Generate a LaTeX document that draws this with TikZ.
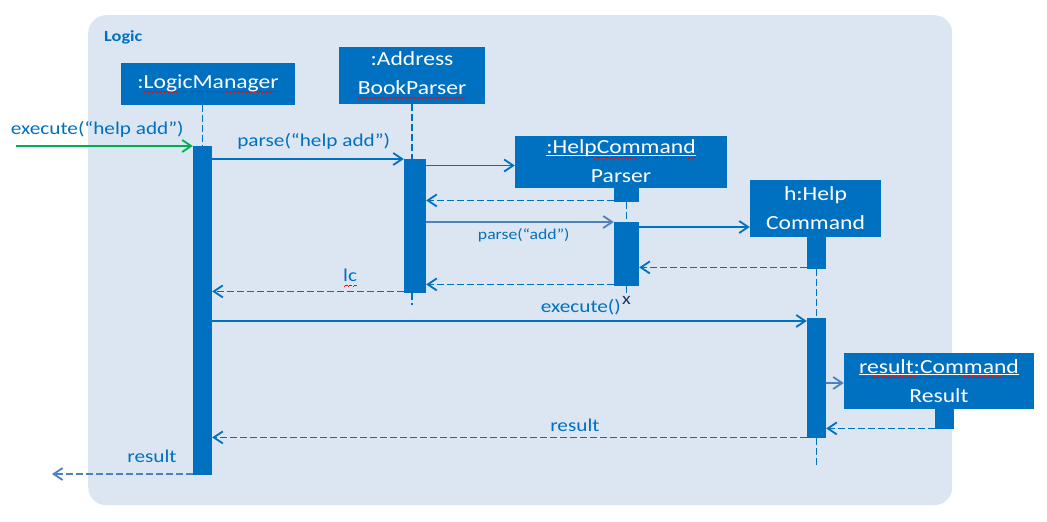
\documentclass[tikz,border=0pt]{standalone}
\usepackage{fontspec}
\setmainfont[FakeStretch=1.18]{Carlito}
\usetikzlibrary{arrows.meta}
\definecolor{obj}{HTML}{0070C0}
\definecolor{obj2}{HTML}{4F81BD}
\definecolor{frm}{HTML}{DCE6F2}
\definecolor{grn}{HTML}{00B050}
\definecolor{navy}{HTML}{1F3864}
\newlength\wlen
\newcommand\wline[1]{\settowidth\wlen{#1}\rlap{\rule[-2pt]{\wlen}{0.9pt}}#1}
\newcommand\rwave[1]{\settowidth\wlen{#1}\rlap{\color{red}\hbox to\wlen{\xleaders\hbox{\rule[-4.6pt]{1pt}{0.7pt}\rule[-4pt]{1pt}{0.7pt}\rule[-3.4pt]{1pt}{0.7pt}\rule[-4pt]{1pt}{0.7pt}}\hfill}}#1}
\tikzset{
  box/.style={fill=obj,text=white,align=center,inner sep=0pt,font=\fontsize{20}{29}\selectfont},
  act/.style={fill=obj,inner sep=0pt,anchor=north},
  life/.style={draw=obj,line width=1.9pt,dash pattern=on 7pt off 3pt},
  msg/.style={-{Straight Barb[length=9pt,width=12pt]},line width=1.8pt,draw=obj},
  ret/.style={msg,dash pattern=on 7pt off 3pt},
  lab/.style={font=\fontsize{18}{21}\selectfont,text=obj,inner sep=0pt},
}
\begin{document}
\begin{tikzpicture}[x=1pt,y=-1pt]
\useasboundingbox (0,0) rectangle (1047,522);
\node[fill=frm,rounded corners=18pt,minimum width=864,minimum height=490,anchor=north west,inner sep=0pt] (logic) at (88,15) {};
\node[font=\bfseries\fontsize{15.5}{15.5}\selectfont,text=obj,anchor=west,inner sep=0pt] (ttl) at ([xshift=16pt,yshift=-22pt]logic.north west) {Logic};
% objects
\node[box,minimum width=174,minimum height=42] (lm) at (208,83.5) {:\rwave{LogicManager}};
\node[box,minimum width=146,minimum height=57] (abp) at (412,75) {:Address\\\rwave{BookParser}};
\node[box,minimum width=212,minimum height=52] (hcp) at (621,161.5) {\wline{:\rwave{HelpCommand}}\\Parser};
\node[box,minimum width=131,minimum height=57] (hc) at (815.5,208.5) {h:Help\\Command};
\node[box,minimum width=190,minimum height=56] (cr) at (939,381) {\wline{\rwave{result:Command}}\\Result};
% activations
\node[act,minimum width=19,minimum height=329] (aLM) at (202.5,146) {};
\node[act,minimum width=22,minimum height=134] (aABP) at (415,159) {};
\node[act,minimum width=25,minimum height=15] (hcpS) at (626.5,187) {};
\node[act,minimum width=25,minimum height=64] (aHCP) at (626.5,222) {};
\node[act,minimum width=19,minimum height=32] (hcS) at (816.5,237) {};
\node[act,minimum width=19,minimum height=120] (aHC) at (816.5,318) {};
\node[act,minimum width=19,minimum height=20] (crS) at (944.5,409) {};
% lifelines
\coordinate (eABP) at (412,305);
\coordinate (eHC) at (816.5,465);
\node[font=\fontsize{17}{17}\selectfont,text=navy,inner sep=0pt] (kill) at (626.5,300) {x};
\draw[life] (aLM.north |- lm.south) -- (aLM.north);
\draw[life] (abp.south) -- (abp.south |- aABP.north);
\draw[life] (abp.south |- aABP.south) -- (eABP);
\draw[life] (hcpS.south) -- (aHCP.north);
\draw[life] (aHCP.south) -- (kill.north);
\draw[life] (hcS.south) -- (aHC.north);
\draw[life] (aHC.south) -- (eHC);
% messages
\coordinate (in) at (16,146);
\draw[msg,draw=grn] (in) -- (aLM.north west) node[lab,above=8pt,pos=.46] {execute(“help add”)};
\draw[msg] (aLM.east |- aABP.north) -- (aABP.north west) node[lab,above=9pt,pos=.53] {parse(“help add”)};
\coordinate (c1) at ([yshift=-4pt]hcp.west);
\draw[msg] (aABP.east |- c1) -- (c1);
\coordinate (c2) at ([yshift=2pt]hcpS.south west);
\draw[ret] (c2) -- (c2 -| aABP.east);
\draw[msg,draw=obj2] (aABP.east |- aHCP.north) -- (aHCP.north west) node[lab,font=\fontsize{15}{15}\selectfont,below=6pt,pos=.52] {parse(“add”)};
\coordinate (c3) at ([yshift=-5pt]aHCP.north east);
\draw[msg] (c3) -- (c3 -| hc.west);
\coordinate (c4) at ([yshift=2pt]hcS.south west);
\draw[ret] (c4) -- (c4 -| aHCP.east);
\coordinate (c5) at ([yshift=2pt]aHCP.south west);
\draw[ret] (c5) -- (c5 -| aABP.east);
\coordinate (c6) at ([yshift=2pt]aABP.south west);
\draw[ret] (c6) -- (c6 -| aLM.east) node[lab,above=4pt,pos=.28] {\rwave{lc}};
\coordinate (c7) at ([yshift=-3pt]aHC.north west);
\draw[msg] (c7 -| aLM.east) -- (c7) node[lab,above=5pt,pos=.62] {execute()};
\coordinate (c8) at ([yshift=-2pt]cr.west);
\draw[msg,draw=obj2] (c8 -| aHC.east) -- (c8);
\coordinate (c9) at ([yshift=1pt]crS.south west);
\draw[ret] (c9) -- (c9 -| aHC.east);
\coordinate (c10) at ([yshift=1pt]aHC.south west);
\draw[ret] (c10) -- (c10 -| aLM.east) node[lab,above=5pt,pos=.39] {result};
\coordinate (out) at (52,474);
\draw[ret,draw=obj2] (aLM.south west |- out) -- (out) node[lab,above=10pt,pos=.29] {result};
\end{tikzpicture}
\end{document}
